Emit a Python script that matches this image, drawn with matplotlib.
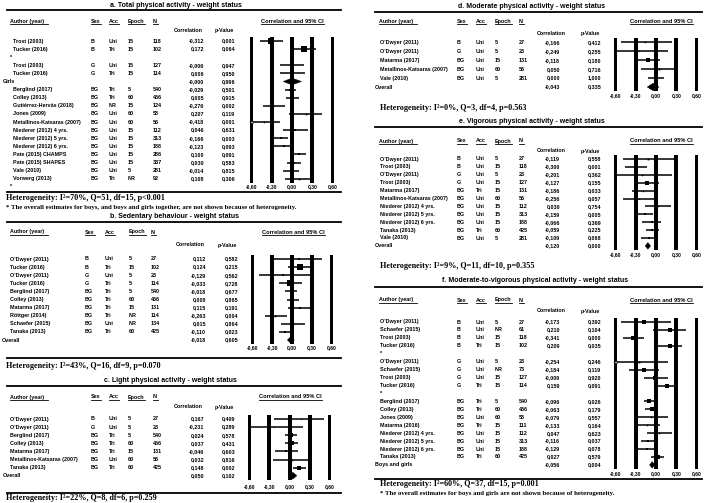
import matplotlib

matplotlib.use("Agg")
import matplotlib.pyplot as plt  # noqa: E402
from matplotlib import font_manager  # noqa: E402
from matplotlib.patches import Polygon  # noqa: E402

W, H = 709, 503
TICKS = [-0.6, -0.3, 0.0, 0.3, 0.6]

# a. total physical activity
A_AUTHOR = ["Trost (2003)", "Tucker (2016)", "*", "Trost (2003)", "Tucker (2016)", "Girls",
            "Berglind (2017)", "Colley (2013)", "Gutiérrez-Hervás (2018)", "Jones (2009)",
            "Metallinos-Katsaras (2007)", "Niederer (2012) 4 yrs.", "Niederer (2012) 5 yrs.",
            "Niederer (2012) 6 yrs.", "Pate (2015) CHAMPS", "Pate (2015) SHAPES", "Vale (2010)",
            "Vorwerg (2013)", "*"]
A_SEX = ["B", "B", "", "G", "G", "", "BG", "BG", "BG", "BG", "BG", "BG", "BG", "BG", "BG", "BG",
         "BG", "BG", ""]
A_ACC = ["Uni", "Tri", "", "Uni", "Tri", "", "Tri", "Tri", "NR", "Uni", "Uni", "Uni", "Uni", "Uni",
         "Uni", "Uni", "Uni", "Tri", ""]
A_EPOCH = ["15", "15", "", "15", "15", "", "5", "60", "15", "60", "60", "15", "15", "15", "15", "15",
           "5", "NR", ""]
A_N = [118, 102, None, 127, 114, None, 540, 456, 124, 58, 56, 112, 313, 188, 286, 337, 281, 92, None]
A_R = [-0.312, 0.172, None, -0.006, 0.006, -0.0, -0.029, 0.005, -0.276, 0.207, -0.418, 0.046,
       -0.166, -0.123, 0.100, 0.030, -0.014, 0.108, None]
A_P = [0.001, 0.064, None, 0.947, 0.950, 0.996, 0.501, 0.915, 0.002, 0.119, 0.001, 0.631, 0.003,
       0.093, 0.091, 0.583, 0.815, 0.306, None]
A_LO = [-0.47, -0.02, None, -0.18, -0.18, -0.13, -0.11, -0.09, -0.43, -0.05, -0.61, -0.14, -0.27,
        -0.26, -0.02, -0.08, -0.13, -0.10, None]
A_HI = [-0.14, 0.36, None, 0.17, 0.19, 0.14, 0.06, 0.10, -0.10, 0.44, -0.17, 0.23, -0.06, 0.02,
        0.21, 0.14, 0.10, 0.31, None]
A_W = [52, 48, None, 33, 33, None, 13, 8, 5, 5, 4, 8, 13, 8, 8, 8, 8, 5, None]

# b. sedentary behaviour
B_AUTHOR = ["O'Dwyer (2011)", "Tucker (2016)", "O'Dwyer (2011)", "Tucker (2016)", "Berglind (2017)",
            "Colley (2013)", "Matarma (2017)", "Röttger (2014)", "Schaefer (2015)", "Tanaka (2013)",
            "Overall"]
B_SEX = ["B", "B", "G", "G", "BG", "BG", "BG", "BG", "BG", "BG", ""]
B_ACC = ["Uni", "Tri", "Uni", "Tri", "Tri", "Tri", "Tri", "Tri", "Uni", "Tri", ""]
B_EPOCH = ["5", "15", "5", "5", "5", "60", "15", "NR", "NR", "60", ""]
B_N = [27, 102, 23, 114, 540, 456, 131, 114, 134, 425, None]
B_R = [0.112, 0.124, -0.129, -0.033, -0.018, 0.008, 0.115, -0.263, 0.015, -0.110, -0.018]
B_P = [0.582, 0.215, 0.562, 0.728, 0.677, 0.865, 0.191, 0.004, 0.864, 0.023, 0.605]
B_LO = [-0.27, -0.06, -0.50, -0.20, -0.10, -0.08, -0.06, -0.41, -0.16, -0.20, -0.07]
B_HI = [0.46, 0.30, 0.29, 0.15, 0.07, 0.10, 0.28, -0.08, 0.19, -0.02, 0.035]
B_W = [8, 51, 8, 55, 13, 13, 8, 5, 5, 13, None]

# c. light physical activity
C_AUTHOR = ["O'Dwyer (2011)", "O'Dwyer (2011)", "Berglind (2017)", "Colley (2013)",
            "Matarma (2017)", "Metallinos-Katsaras (2007)", "Tanaka (2013)", "Overall"]
C_SEX = ["B", "G", "BG", "BG", "BG", "BG", "BG", ""]
C_ACC = ["Uni", "Uni", "Tri", "Tri", "Tri", "Uni", "Tri", ""]
C_EPOCH = ["5", "5", "5", "60", "15", "60", "60", ""]
C_N = [27, 23, 540, 456, 131, 56, 425, None]
C_R = [0.167, -0.231, 0.024, 0.037, -0.046, 0.032, 0.148, 0.050]
C_P = [0.409, 0.289, 0.578, 0.431, 0.603, 0.816, 0.002, 0.102]
C_LO = [-0.23, -0.59, -0.06, -0.06, -0.22, -0.24, 0.05, -0.01]
C_HI = [0.51, 0.20, 0.11, 0.13, 0.13, 0.30, 0.24, 0.11]
C_W = [2, 2, 30, 30, 16, 4, 40, None]

# d. moderate physical activity
D_AUTHOR = ["O'Dwyer (2011)", "O'Dwyer (2011)", "Matarma (2017)", "Metallinos-Katsaras (2007)",
            "Vale (2010)", "Overall"]
D_SEX = ["B", "G", "BG", "BG", "BG", ""]
D_ACC = ["Uni", "Uni", "Uni", "Uni", "Uni", ""]
D_EPOCH = ["5", "5", "15", "60", "5", ""]
D_N = [27, 23, 131, 56, 281, None]
D_R = [-0.166, -0.249, -0.118, 0.050, 0.000, -0.043]
D_P = [0.412, 0.255, 0.180, 0.716, 1.000, 0.335]
D_LO = [-0.51, -0.60, -0.28, -0.22, -0.12, -0.13]
D_HI = [0.23, 0.18, 0.06, 0.31, 0.12, 0.045]
D_W = [4, 3, 20, 6, 45, None]

# e. vigorous physical activity
E_AUTHOR = ["O'Dwyer (2011)", "Trost (2003)", "O'Dwyer (2011)", "Trost (2003)", "Matarma (2017)",
            "Metallinos-Katsaras (2007)", "Niederer (2012) 4 yrs.", "Niederer (2012) 5 yrs.",
            "Niederer (2012) 6 yrs.", "Tanaka (2013)", "Vale (2010)", "Overall"]
E_SEX = ["B", "B", "G", "G", "BG", "BG", "BG", "BG", "BG", "BG", "BG", ""]
E_ACC = ["Uni", "Uni", "Uni", "Uni", "Tri", "Uni", "Uni", "Uni", "Uni", "Tri", "Uni", ""]
E_EPOCH = ["5", "15", "5", "15", "15", "60", "15", "15", "15", "60", "5", ""]
E_N = [27, 118, 23, 127, 131, 56, 112, 313, 188, 425, 281, None]
E_R = [-0.119, -0.300, -0.201, -0.127, -0.186, -0.256, 0.030, -0.159, -0.066, -0.059, -0.109,
       -0.120]
E_P = [0.558, 0.001, 0.362, 0.155, 0.033, 0.057, 0.754, 0.005, 0.369, 0.225, 0.068, 0.000]
E_LO = [-0.48, -0.46, -0.57, -0.30, -0.35, -0.49, -0.16, -0.27, -0.21, -0.15, -0.22, -0.16]
E_HI = [0.27, -0.13, 0.23, 0.05, -0.02, 0.01, 0.22, -0.05, 0.08, 0.04, 0.01, -0.08]
E_W = [6, 45, 4, 45, 4, 2, 4, 8, 10, 13, 10, None]

# f. moderate-to-vigorous physical activity
F_AUTHOR = ["O'Dwyer (2011)", "Schaefer (2015)", "Trost (2003)", "Tucker (2016)", "*",
            "O'Dwyer (2011)", "Schaefer (2015)", "Trost (2003)", "Tucker (2016)", "*",
            "Berglind (2017)", "Colley (2013)", "Jones (2009)", "Matarma (2016)",
            "Niederer (2012) 4 yrs.", "Niederer (2012) 5 yrs.", "Niederer (2012) 6 yrs.",
            "Tanaka (2013)", "Boys and girls"]
F_SEX = ["B", "B", "B", "B", "", "G", "G", "G", "G", "", "BG", "BG", "BG", "BG", "BG", "BG", "BG",
         "BG", ""]
F_ACC = ["Uni", "Uni", "Uni", "Tri", "", "Uni", "Uni", "Uni", "Tri", "", "Tri", "Tri", "Uni", "Tri",
         "Uni", "Uni", "Uni", "Tri", ""]
F_EPOCH = ["5", "NR", "15", "15", "", "5", "NR", "15", "15", "", "5", "60", "60", "15", "15", "15",
           "15", "60", ""]
F_N = [27, 61, 118, 102, None, 23, 73, 127, 114, None, 540, 456, 58, 111, 112, 313, 188, 425, None]
F_R = [-0.173, 0.210, -0.341, 0.209, None, -0.254, -0.184, -0.009, 0.159, None, -0.096, -0.063,
       -0.079, -0.133, 0.047, -0.116, -0.129, 0.027, -0.056]
F_P = [0.392, 0.104, 0.000, 0.035, None, 0.246, 0.119, 0.920, 0.091, None, 0.026, 0.179, 0.557,
       0.164, 0.623, 0.037, 0.078, 0.579, 0.004]
F_LO = [-0.52, -0.05, -0.49, 0.02, None, -0.61, -0.40, -0.18, -0.03, None, -0.18, -0.16, -0.33,
        -0.31, -0.14, -0.22, -0.27, -0.07, -0.095]
F_HI = [0.22, 0.44, -0.17, 0.39, None, 0.18, 0.05, 0.17, 0.33, None, -0.01, 0.03, 0.18, 0.06, 0.23,
        -0.01, 0.01, 0.12, -0.018]
F_W = [30, 38, 45, 45, None, 6, 30, 38, 38, None, 30, 22, 4, 4, 4, 16, 10, 22, None]

HET = {
    "a": "Heterogeneity: I²=70%, Q=51, df=15, p<0.001",
    "b": "Heterogeneity: I²=43%, Q=16, df=9, p=0.070",
    "c": "Heterogeneity: I²=22%, Q=8, df=6, p=0.259",
    "d": "Heterogeneity: I²=0%, Q=3, df=4, p=0.563",
    "e": "Heterogeneity: I²=9%, Q=11, df=10, p=0.355",
    "f": "Heterogeneity: I²=60%, Q=37, df=15, p=0.001",
}
FOOT_A = ("* The overall estimates for boys, and boys and girls together, "
          "are not shown because of heterogeneity.")
FOOT_F = "* The overall estimates for boys and girls are not shown because of heterogeneity."

_names = {f.name for f in font_manager.fontManager.ttflist}
if "Liberation Sans Narrow" in _names:
    SANS, FS = "Liberation Sans Narrow", 4.7
else:
    SANS, FS = "Liberation Sans", 3.9
SERIF = "Liberation Serif"

# panel geometry, in pixels of the 709x503 canvas
LEFT = dict(x0=7, x1=341, lab=3, star=10, author=10, ahead=10, sex=91, acc=109, epoch=128, n=153,
            r=204, p=235, rhead=188, phead=224, f0=250, f1=334, cihead=292, hx=6)
RIGHT = dict(x0=375, x1=702, lab=375, star=380, author=380, ahead=379, sex=457, acc=476,
             epoch=495, n=519, r=560, p=601, rhead=551, phead=590, f0=614, f1=698, cihead=661,
             hx=380)
GEOM = {
    "a": {**LEFT, "tx": 176, "title_y": 5, "rule_y": 10, "head_y": 21, "sub_y": 30, "row0": 41,
          "dy": 8.1, "tick_y": 187, "author": 13, "het_rule": 192, "het_y": 198, "foot_y": 207},
    "b": {**LEFT, "tx": 175, "title_y": 216, "rule_y": 222, "head_y": 232, "sub_y": 245,
          "row0": 259, "dy": 8.1, "tick_y": 348, "lab": 2, "sex": 85, "acc": 105, "epoch": 129,
          "n": 151, "r": 206, "p": 238, "rhead": 190, "phead": 227, "f0": 251, "f1": 333,
          "cihead": 293, "het_rule": 358, "het_y": 366},
    "c": {**LEFT, "tx": 170, "title_y": 380, "rule_y": 386, "head_y": 397, "sub_y": 407,
          "row0": 419, "dy": 8.1, "tick_y": 487, "f0": 248, "f1": 331, "cihead": 290,
          "het_rule": 493, "het_y": 498},
    "d": {**RIGHT, "tx": 532, "title_y": 6, "rule_y": 12, "head_y": 21, "sub_y": 33,
          "row0": 42.5, "dy": 8.9, "tick_y": 96, "het_y": 108},
    "e": {**RIGHT, "tx": 532, "title_y": 121, "rule_y": 127, "head_y": 141, "sub_y": 151,
          "row0": 159, "dy": 7.9, "tick_y": 255, "het_y": 266},
    "f": {**RIGHT, "tx": 535, "title_y": 281, "rule_y": 287, "head_y": 300, "sub_y": 311,
          "row0": 322, "dy": 7.94, "tick_y": 474, "het_rule": 479, "het_y": 484, "foot_y": 493},
}

TITLES = {
    "a": "a. Total physical activity - weight status",
    "b": "b. Sedentary behaviour - weight status",
    "c": "c. Light physical activity - weight status",
    "d": "d. Moderate physical activity - weight status",
    "e": "e. Vigorous physical activity - weight status",
    "f": "f. Moderate-to-vigorous physical activity - weight status",
}
DATA = {
    "a": (A_AUTHOR, A_SEX, A_ACC, A_EPOCH, A_N, A_R, A_P, A_LO, A_HI, A_W),
    "b": (B_AUTHOR, B_SEX, B_ACC, B_EPOCH, B_N, B_R, B_P, B_LO, B_HI, B_W),
    "c": (C_AUTHOR, C_SEX, C_ACC, C_EPOCH, C_N, C_R, C_P, C_LO, C_HI, C_W),
    "d": (D_AUTHOR, D_SEX, D_ACC, D_EPOCH, D_N, D_R, D_P, D_LO, D_HI, D_W),
    "e": (E_AUTHOR, E_SEX, E_ACC, E_EPOCH, E_N, E_R, E_P, E_LO, E_HI, E_W),
    "f": (F_AUTHOR, F_SEX, F_ACC, F_EPOCH, F_N, F_R, F_P, F_LO, F_HI, F_W),
}


def fmt(v, nd=3):
    return f"{v:.{nd}f}".replace(".", ",")


def draw_panel(fig, bg, key, underlined):
    author, sex, acc, epoch, n, r, p, lo, hi, w = DATA[key]
    g = GEOM[key]
    txt = dict(family=SANS, weight="bold", va="center", fontsize=FS)

    def row_y(i):
        return g["row0"] + i * g["dy"]

    bg.text(g["tx"], g["title_y"], TITLES[key], ha="center", **{**txt, "fontsize": FS * 1.3})
    bg.plot([g["x0"], g["x1"]], [g["rule_y"]] * 2, color="k", lw=1.3)

    for label, col, extra in [("Author (year)", "ahead", 4), ("Sex", "sex", 0.5),
                              ("Acc", "acc", 0.5), ("Epoch", "epoch", 0.5), ("N", "n", 0.5)]:
        underlined.append((bg.text(g[col], g["head_y"], label, ha="left", **txt), extra))
    ci = bg.text(g["cihead"], g["head_y"], "Correlation and 95% CI", ha="center",
                 **{**txt, "fontsize": FS * 1.05})
    underlined.append((ci, 1))
    bg.text(g["rhead"], g["sub_y"], "Correlation", ha="center", **txt)
    bg.text(g["phead"], g["sub_y"], "p-Value", ha="center", **txt)

    for i, name in enumerate(author):
        y = row_y(i)
        if name == "*":
            x = g["star"]
        elif not sex[i]:
            x = g["lab"]
        else:
            x = g["author"]
        bg.text(x, y, name, ha="left", **txt)
        if sex[i]:
            bg.text(g["sex"], y, sex[i], ha="left", **txt)
            bg.text(g["acc"], y, acc[i], ha="left", **txt)
            bg.text(g["epoch"], y, epoch[i], ha="left", **txt)
            bg.text(g["n"], y, str(n[i]), ha="left", **txt)
        if r[i] is not None:
            bg.text(g["r"], y, fmt(r[i]), ha="right", **txt)
            bg.text(g["p"], y, fmt(p[i]), ha="right", **txt)

    # forest plot
    last = max(i for i, v in enumerate(r) if v is not None)
    top, bot = row_y(-0.5), row_y(last + 0.5)
    ax = fig.add_axes([g["f0"] / W, 1 - bot / H, (g["f1"] - g["f0"]) / W, (bot - top) / H])
    ax.patch.set_visible(False)
    ax.set_xlim(-0.62, 0.62)
    ax.set_ylim(last + 0.5, -0.5)
    for s in ax.spines.values():
        s.set_visible(False)
    ax.set_yticks([])
    ax.set_xticks(TICKS, [fmt(t, 2) for t in TICKS])
    ax.tick_params(axis="x", length=0, pad=(g["tick_y"] - 3 - bot) * 0.72, labelsize=FS * 0.92)
    for lab in ax.get_xticklabels():
        lab.set_fontfamily(SANS)
        lab.set_fontweight("bold")
    ax.grid(axis="x", color="black", lw=1.5, alpha=1.0, antialiased=False)
    ax.set_axisbelow(True)
    for i in range(len(r)):
        if r[i] is None:
            continue
        if w[i] is None:
            ax.add_patch(Polygon([(lo[i], i), (r[i], i - 0.42), (hi[i], i), (r[i], i + 0.42)],
                                 closed=True, fc="k", ec="k", lw=0.3, zorder=3))
            continue
        ax.hlines(i, max(lo[i], -0.6), hi[i], color="k", lw=1.1, zorder=2)
        ax.plot(r[i], i, marker="s", ms=0.52 * w[i] ** 0.5, color="k", mew=0, zorder=3)
        if lo[i] < -0.6:
            ax.plot(-0.6, i, marker="<", ms=2.2, mfc="white", mec="k", mew=0.5, clip_on=False,
                    zorder=3)

    if g.get("het_rule"):
        bg.plot([g["x0"], g["x1"]], [g["het_rule"]] * 2, color="k", lw=1.3)
    bg.text(g["hx"], g["het_y"], HET[key], ha="left", va="center", family=SERIF, weight="bold",
            fontsize=5.9)


fig = plt.figure(figsize=(W / 100, H / 100), dpi=100)
bg = fig.add_axes([0, 0, 1, 1])
bg.set_xlim(0, W)
bg.set_ylim(H, 0)
bg.axis("off")

underlined = []
for k in "abcdef":
    draw_panel(fig, bg, k, underlined)

bg.text(GEOM["a"]["hx"], GEOM["a"]["foot_y"], FOOT_A, ha="left", va="center", family=SERIF,
        weight="bold", fontsize=4.85)
bg.text(GEOM["f"]["hx"], GEOM["f"]["foot_y"], FOOT_F, ha="left", va="center", family=SERIF,
        weight="bold", fontsize=4.85)

renderer = fig.canvas.get_renderer()
for t, extra in underlined:
    bb = t.get_window_extent(renderer)
    yv = H - bb.y0 + 0.4
    bg.plot([bb.x0, bb.x1 + extra], [yv, yv], color="k", lw=0.6)

fig.savefig("out.png", dpi=100)
